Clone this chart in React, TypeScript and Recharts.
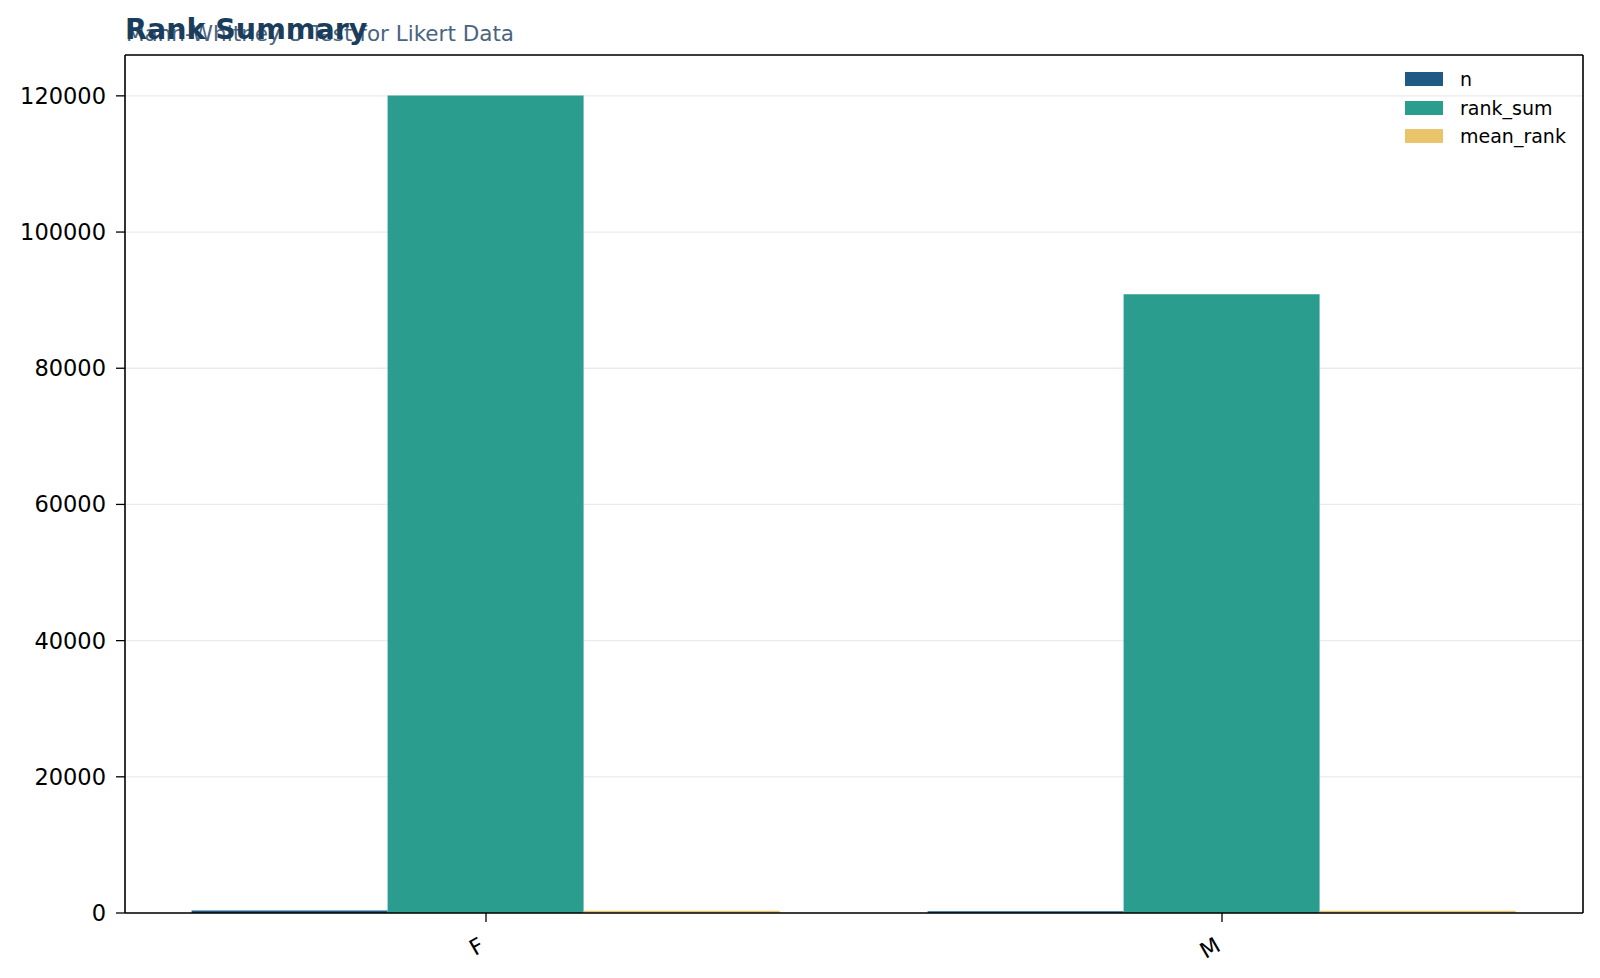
import React from "react";
import { BarChart, Bar, XAxis, YAxis, CartesianGrid } from "recharts";

const groups = ["F", "M"];
const nValues = [380, 269];
const rankSumValues = [120050, 90875];
const meanRankValues = [315.9, 337.8];
const yTicks = [0, 20000, 40000, 60000, 80000, 100000, 120000];

const series = [
  { key: "n", color: "#1f5a85" },
  { key: "rank_sum", color: "#2a9d8f" },
  { key: "mean_rank", color: "#e9c46a" },
];

const data = groups.map((g, i) => ({
  group: g,
  n: nValues[i],
  rank_sum: rankSumValues[i],
  mean_rank: meanRankValues[i],
}));

const font = "'DejaVu Sans', sans-serif";

function LegendBox() {
  return (
    <div style={{ position: "absolute", left: 1405, top: 65, fontFamily: font, fontSize: 19, color: "#000" }}>
      {series.map((s) => (
        <div key={s.key} style={{ display: "flex", alignItems: "center", height: 28.5 }}>
          <span style={{ display: "inline-block", width: 38, height: 14, background: s.color, marginRight: 17 }} />
          <span>{s.key}</span>
        </div>
      ))}
    </div>
  );
}

function XTick(props: any) {
  const { x, y, payload } = props;
  return (
    <g transform={`translate(${x - 8},${y + 12})`}>
      <text textAnchor="end" transform="rotate(-30)" fontSize={22} fontFamily={font} fill="#000" dy={16}>
        {payload.value}
      </text>
    </g>
  );
}

export default function App() {
  return (
    <div style={{ position: "fixed", left: 0, top: 0, width: 1600, height: 978, background: "#fff" }}>
      <BarChart
        width={1600}
        height={978}
        data={data}
        margin={{ top: 54, right: 16, bottom: 0, left: 0 }}
        barCategoryGap="10%"
        barGap={0}
      >
        <CartesianGrid vertical={false} stroke="#ebebeb" strokeWidth={1.3} />
        <XAxis
          dataKey="group"
          height={65}
          tickSize={9}
          stroke="#000"
          tickLine={{ stroke: "#000", strokeWidth: 1.3 }}
          axisLine={{ stroke: "#000", strokeWidth: 1.6 }}
          tick={<XTick />}
          padding={{ left: -7, right: -7 }}
        />
        <XAxis
          xAxisId="top"
          orientation="top"
          dataKey="group"
          height={1}
          tick={false}
          tickLine={false}
          axisLine={{ stroke: "#000", strokeWidth: 1.6 }}
        />
        <YAxis
          width={125}
          domain={[0, 126000]}
          ticks={yTicks}
          tickSize={9}
          tickMargin={10}
          stroke="#000"
          tickLine={{ stroke: "#000", strokeWidth: 1.3 }}
          axisLine={{ stroke: "#000", strokeWidth: 1.6 }}
          tick={{ fill: "#000", fontSize: 22.5, fontFamily: font }}
          allowDataOverflow
        />
        <YAxis
          yAxisId="right"
          orientation="right"
          width={1}
          domain={[0, 1]}
          tick={false}
          tickLine={false}
          axisLine={{ stroke: "#000", strokeWidth: 1.6 }}
        />
        {series.map((s) => (
          <Bar key={s.key} dataKey={s.key} fill={s.color} isAnimationActive={false} />
        ))}
      </BarChart>
      <svg width={1600} height={80} style={{ position: "absolute", left: 0, top: 0, pointerEvents: "none" }}>
        <text x={126} y={41} fontFamily={font} fontSize={21.5} fill="#4a6480">
          Mann-Whitney U Test for Likert Data
        </text>
        <text x={125} y={39} fontFamily={font} fontSize={28.5} fontWeight="bold" fill="#1b3d5c">
          Rank Summary
        </text>
      </svg>
      <LegendBox />
    </div>
  );
}
